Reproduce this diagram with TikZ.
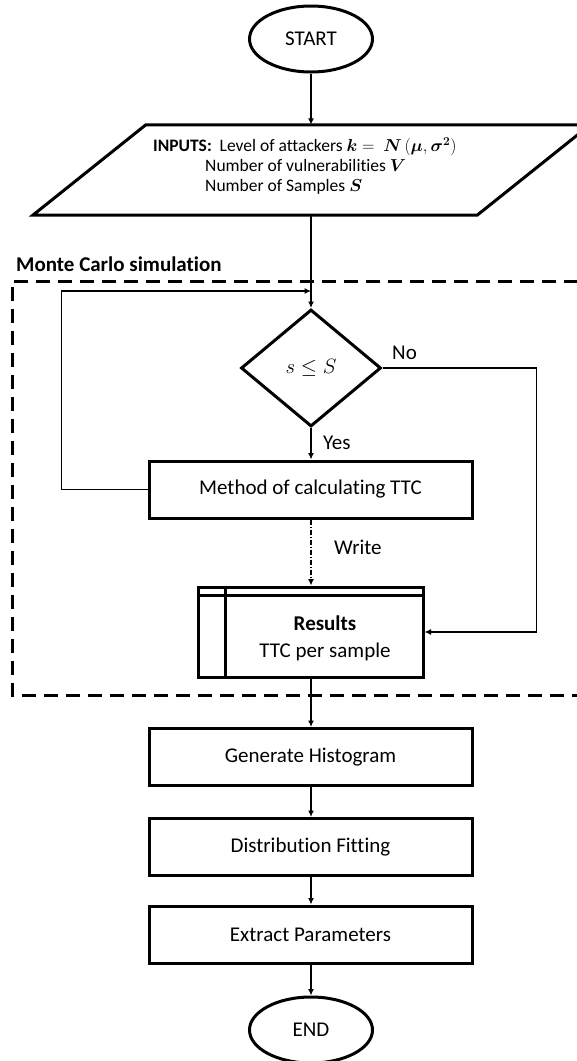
\documentclass[tikz,border=0pt]{standalone}
\usepackage{fontspec}
\setmainfont[Ligatures=NoCommon]{Carlito}
\usepackage{bm}
\usetikzlibrary{arrows.meta,shapes.geometric}

\begin{document}
\begin{tikzpicture}[x=1pt,y=-1pt,
  font=\fontsize{21}{25}\selectfont,
  boxline/.style={draw,line width=3pt},
  procbox/.style={boxline,rectangle,minimum width=323pt,minimum height=57pt,inner sep=0pt},
  terminal/.style={boxline,ellipse,minimum width=123pt,minimum height=66pt,inner sep=0pt},
  flow/.style={line width=1.3pt,-{Latex[length=6.5pt,width=6pt]}},
  writeflow/.style={flow,dash pattern=on 5pt off 2pt on 1pt off 2pt},
  region/.style={line width=3pt,dash pattern=on 14pt off 8pt},
  edgelabel/.style={inner sep=0pt},
]
\useasboundingbox (0,0) rectangle (577,1061);
\clip (0,0) rectangle (577,1061);

% Monte Carlo region (runs off the right edge)
\draw[region] (600,281) -- (12,281) -- (12,695) -- (600,695);
\node[anchor=base west,inner sep=0pt,font=\fontsize{21}{25}\selectfont\bfseries] (mclabel) at (16,271) {Monte Carlo simulation};

% terminals
\node[terminal] (start) at (311,39) {START};
\node[terminal] (end) at (311,1030) {END};

% input parallelogram
\node[minimum width=444pt,minimum height=90pt,inner sep=0pt] (inputs) at (311.5,170) {};
\draw[boxline] ([xshift=56.5pt]inputs.north west) -- ([xshift=56.5pt]inputs.north east)
  -- ([xshift=-56.5pt]inputs.south east) -- ([xshift=-56.5pt]inputs.south west) -- cycle;
\node[align=left,anchor=west,inner sep=0pt,font=\fontsize{17.5}{20}\selectfont] (inputtext) at (153,166)
  {\textbf{INPUTS:}\ \ Level of attackers $\bm{k} =\ \bm{N}\,(\bm{\mu},\bm{\sigma}^{\bm{2}})$\\
   \hspace*{52pt}Number of vulnerabilities $\bm{V}$\\
   \hspace*{52pt}Number of Samples $\bm{S}$};

% decision
\node[boxline,diamond,minimum width=140pt,minimum height=117pt,inner sep=0pt] (decision) at (311,368)
  {\fontsize{21}{24}\selectfont$s \leq S$};

% process steps
\node[procbox] (method) at (310.5,489.5) {Method of calculating TTC};
\node[boxline,rectangle,minimum width=225pt,minimum height=90pt,inner sep=0pt] (results) at (310.5,632) {};
\draw[boxline] ([xshift=29pt]results.north west) -- ([xshift=29pt]results.south west);
\draw[boxline] ([yshift=-10pt]results.north west) -- ([yshift=-10pt]results.north east);
\node[align=center,inner sep=0pt,font=\fontsize{21}{27}\selectfont] (restext) at (325,638)
  {\textbf{Results}\\TTC per sample};
\node[procbox] (histogram) at (310.5,757) {Generate Histogram};
\node[procbox] (fitting) at (310.5,847) {Distribution Fitting};
\node[procbox] (extract) at (310.5,934.5) {Extract Parameters};

% connectors
\coordinate (loopin) at (311,291);
\draw[flow] (start.south) -- (start.south |- inputs.north);
\draw[flow] (start.south |- inputs.south) -- (decision.north);
\draw[flow] (decision.south) -- (decision.south |- method.north);
\node[edgelabel,anchor=west] (yes) at (323,443) {Yes};
\draw[flow] (method.west) -- ++(-86,0) |- (loopin);
\draw[flow] (decision.east) -- ++(154,0) |- (results.east);
\node[edgelabel,anchor=west] (no) at (392,353) {No};
\draw[writeflow] (decision.south |- method.south) -- (decision.south |- results.north);
\node[edgelabel,anchor=west] (write) at (334,547) {Write};
\draw[flow] (decision.south |- results.south) -- (decision.south |- histogram.north);
\draw[flow] (decision.south |- histogram.south) -- (decision.south |- fitting.north);
\draw[flow] (decision.south |- fitting.south) -- (decision.south |- extract.north);
\draw[flow] (decision.south |- extract.south) -- (end.north);
\end{tikzpicture}
\end{document}
